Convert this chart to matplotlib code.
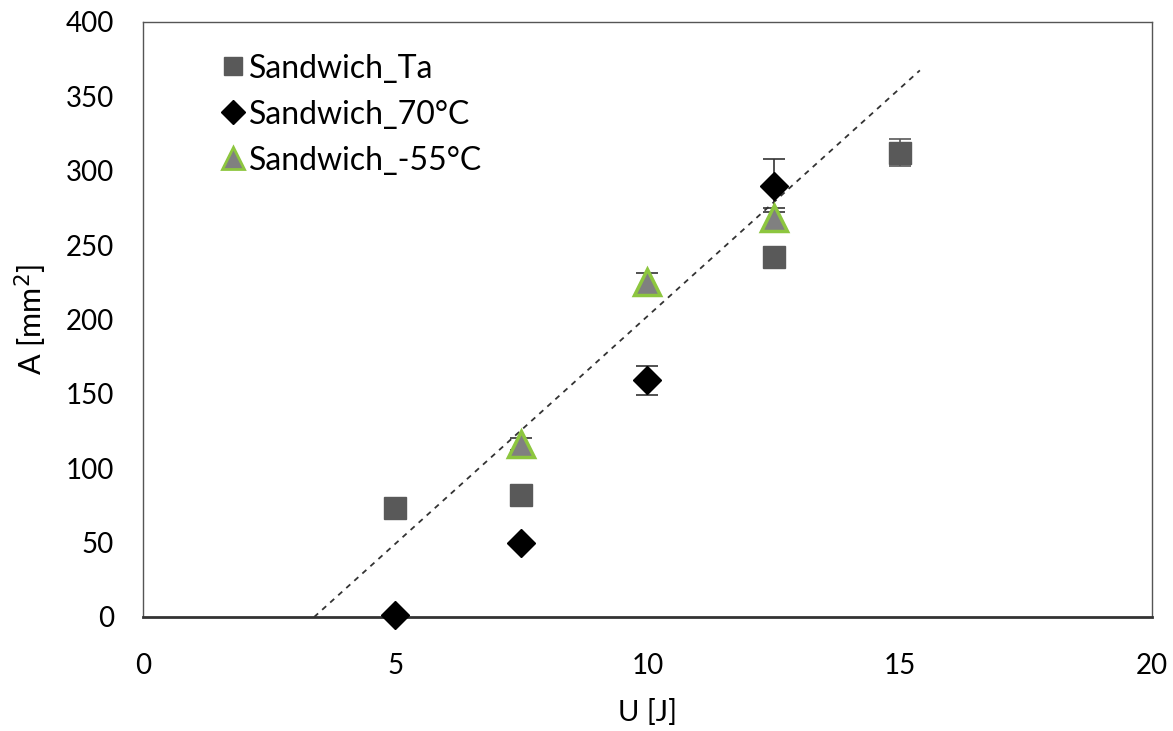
import matplotlib.pyplot as plt
from matplotlib.lines import Line2D
import numpy as np

plt.rcParams['font.family'] = ['Lato', 'DejaVu Sans']

# Sandwich_Ta
u_ta = [5, 7.5, 12.5, 15]
a_ta = [73, 82, 242, 312]
e_ta = [0, 0, 0, 9]

# Sandwich_70°C
u_70 = [5, 7.5, 10, 12.5]
a_70 = [1, 50, 159, 290]
e_70 = [0, 0, 10, 18]

# Sandwich_-55°C
u_55 = [7.5, 10, 12.5]
a_55 = [116, 225, 268]
e_55 = [4, 6, 7]

# linear trend line (slope, intercept) and its x span
trend_coef = [30.6, -103.8]
trend_u = [3.39, 15.4]

fig = plt.figure(figsize=(11.73, 7.31), dpi=100)
ax = fig.add_axes([0.122, 0.156, 0.860, 0.814])

tu = np.array(trend_u)
ax.plot(tu, np.polyval(trend_coef, tu), ls=(0, (3, 3)), color='#333333', lw=1.3, zorder=1)

styles = [
    ('Sandwich_Ta', u_ta, a_ta, e_ta, dict(marker='s', ms=16, mfc='#595959', mec='#595959'), '#595959'),
    ('Sandwich_70°C', u_70, a_70, e_70, dict(marker='D', ms=14, mfc='black', mec='black'), '#333333'),
    ('Sandwich_-55°C', u_55, a_55, e_55, dict(marker='^', ms=19, mfc='#808080', mec='#8dc63f', mew=2.5), '#333333'),
]

handles = []
for z, (name, u, a, e, mk, ec) in enumerate(styles):
    eu = [x for x, err in zip(u, e) if err > 0]
    ea = [y for y, err in zip(a, e) if err > 0]
    ee = [err for err in e if err > 0]
    ax.errorbar(eu, ea, yerr=ee, fmt='none', ecolor=ec, elinewidth=1.2,
                capsize=8, capthick=1.2, zorder=2 + z)
    ax.plot(u, a, ls='none', clip_on=False, zorder=5 + z, **mk)
    small = dict(mk)
    small['ms'] = mk['ms'] * 0.85
    if 'mew' in small:
        small['mew'] = 2
    handles.append(Line2D([], [], ls='none', label=name, **small))

ax.set_xlim(0, 20)
ax.set_ylim(0, 400)
ax.set_xticks([0, 5, 10, 15, 20])
ax.set_yticks(range(0, 401, 50))
ax.tick_params(length=0, labelsize=20)
ax.tick_params(axis='x', pad=26)
ax.tick_params(axis='y', pad=21)
for s in ax.spines.values():
    s.set_color('#555555')
    s.set_linewidth(1.0)
ax.spines['bottom'].set_linewidth(2.0)
ax.spines['bottom'].set_color('#333333')

ax.set_xlabel('U [J]', fontsize=21, labelpad=14)
ax.set_ylabel('A [mm$^2$]', fontsize=22, labelpad=12)

ax.legend(handles=handles, loc='upper left', bbox_to_anchor=(0.045, 0.995), frameon=False,
          fontsize=23, handletextpad=0.0, handlelength=1.0,
          labelspacing=0.5)

fig.savefig('out.png', dpi=100)
